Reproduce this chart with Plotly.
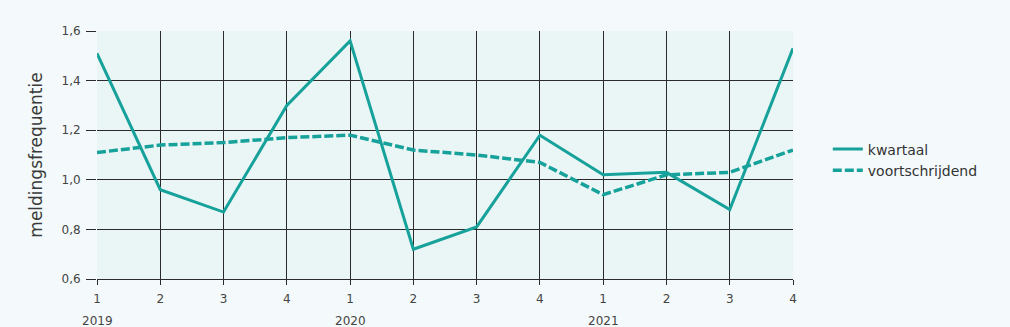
import plotly.graph_objects as go

quarters = ["1", "2", "3", "4", "1", "2", "3", "4", "1", "2", "3", "4"]
years = ["2019", "2020", "2021"]
kwartaal = [1.51, 0.96, 0.87, 1.30, 1.56, 0.72, 0.81, 1.18, 1.02, 1.03, 0.88, 1.53]
voortschrijdend = [1.11, 1.14, 1.15, 1.17, 1.18, 1.12, 1.10, 1.07, 0.94, 1.02, 1.03, 1.12]
yticks = [0.6, 0.8, 1.0, 1.2, 1.4, 1.6]

xpos = list(range(len(quarters)))
teal = "#17a19b"
font_family = "'DejaVu Sans', sans-serif"

fig = go.Figure()
fig.add_trace(go.Scatter(x=xpos, y=kwartaal, mode="lines", name="kwartaal",
                         line=dict(color=teal, width=3)))
fig.add_trace(go.Scatter(x=xpos, y=voortschrijdend, mode="lines", name="voortschrijdend",
                         line=dict(color=teal, width=3.5, dash="9px,3px")))

for i, yr in enumerate(years):
    fig.add_annotation(x=xpos[i * 4], y=0, xref="x", yref="paper", yshift=-42,
                       text=yr, showarrow=False, xanchor="center", yanchor="middle",
                       font=dict(size=12, color="#444", family=font_family))

fig.update_xaxes(range=[0, 11], tickvals=xpos, ticktext=quarters, showgrid=True,
                 gridcolor="#2b2b2b", gridwidth=1, zeroline=False,
                 ticks="outside", ticklen=5, tickcolor="#2b2b2b",
                 showline=True, linecolor="#2b2b2b", linewidth=1,
                 ticklabelstandoff=4,
                 tickfont=dict(size=12, color="#444", family=font_family))
fig.update_yaxes(range=[0.6, 1.6], tickvals=yticks, tickformat=".1f", showgrid=True,
                 gridcolor="#2b2b2b", gridwidth=1, zeroline=False,
                 ticks="outside", ticklen=10, tickcolor="#2b2b2b",
                 showline=False, ticklabelstandoff=3,
                 tickfont=dict(size=12, color="#444", family=font_family),
                 title=dict(text="meldingsfrequentie", standoff=14,
                            font=dict(size=17, color="#3a3a3a", family=font_family)))

fig.update_layout(
    width=1010, height=327,
    margin=dict(l=97, r=217, t=31, b=48),
    paper_bgcolor="#f4fafb",
    plot_bgcolor="#eaf6f5",
    separators=",.",
    showlegend=True,
    legend=dict(x=1.05, y=0.48, xanchor="left", yanchor="middle",
                bgcolor="rgba(0,0,0,0)", tracegroupgap=4,
                font=dict(size=14, color="#333", family=font_family)),
)

fig.write_html("out.html", config={"displayModeBar": False},
               post_script="document.body.style.margin='0';document.body.style.background='#f4fafb';")
